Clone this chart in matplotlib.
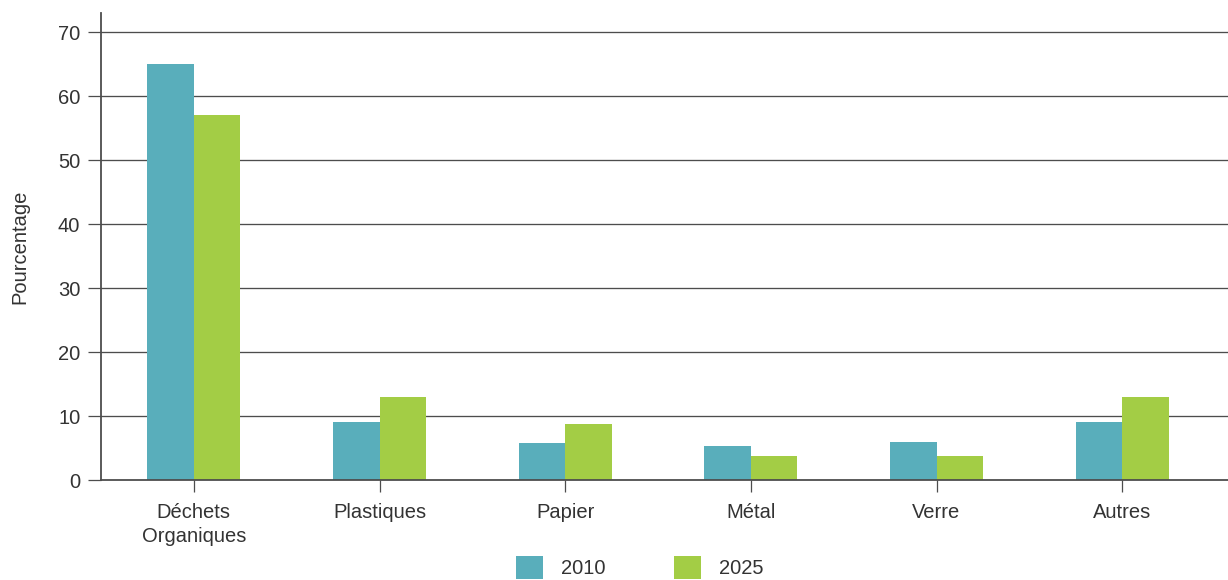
import numpy as np
import matplotlib.pyplot as plt

plt.rcParams['font.family'] = ['Liberation Sans', 'DejaVu Sans']

categories = ["Déchets\nOrganiques", "Plastiques", "Papier", "Métal", "Verre", "Autres"]
years = ["2010", "2025"]
vals_2010 = [65, 9, 5.8, 5.3, 5.9, 9]
vals_2025 = [57, 13, 8.8, 3.7, 3.7, 13]

c_2010 = "#59aebb"
c_2025 = "#a3cd45"
txt = "#333333"
line = "#4d4d4d"
fs = 14.5

fig = plt.figure(figsize=(12.28, 5.8), dpi=100)
ax = fig.add_axes([101 / 1228, 100 / 580, 1 - 101 / 1228, 467 / 580])

x = np.arange(len(categories))
w = 0.25
ax.bar(x - w / 2, vals_2010, w, color=c_2010, label=years[0], zorder=3)
ax.bar(x + w / 2, vals_2025, w, color=c_2025, label=years[1], zorder=3)

ax.set_xlim(-0.5, 5.57)
ax.set_ylim(0, 72.97)
ax.set_yticks(np.arange(0, 80, 10))
ax.set_xticks(x)
ax.set_xticklabels(categories, fontsize=fs, color=txt, linespacing=1.35)
ax.tick_params(axis='y', labelsize=fs, labelcolor=txt, length=9.4, width=0.9, color=line, pad=5.5)
ax.tick_params(axis='x', length=8.6, width=0.9, color=line, pad=8)

for y in range(10, 80, 10):
    ax.axhline(y, color=line, lw=0.95, zorder=1)

for s in ["top", "right"]:
    ax.spines[s].set_visible(False)
for s in ["left", "bottom"]:
    ax.spines[s].set_color(line)
    ax.spines[s].set_linewidth(1.3)
    ax.spines[s].set_zorder(4)

ax.set_ylabel("Pourcentage", fontsize=fs, color=txt)
ax.yaxis.set_label_coords(-72 / 1127, 0.5)

fig.legend(loc="upper center", bbox_to_anchor=(0.521, 1 - 546 / 580), ncol=2,
           frameon=False, fontsize=fs, handlelength=1.35, handleheight=1.35,
           handletextpad=0.9, columnspacing=3.4, borderpad=0, labelcolor=txt)

fig.savefig("out.png", dpi=100)
